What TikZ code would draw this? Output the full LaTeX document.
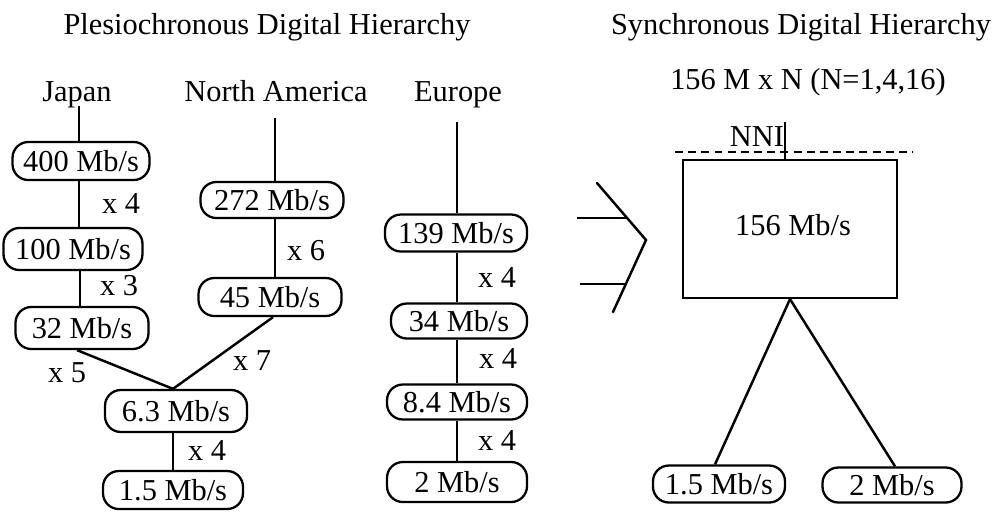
\documentclass[tikz,border=0pt]{standalone}
\usepackage{fontspec}
\setmainfont{Liberation Serif}
\usetikzlibrary{calc}

\tikzset{
  rate/.style={draw, line width=1.3pt, rounded corners=9pt, inner sep=0pt,
    minimum width=2.8cm, minimum height=0.76cm},
  mult/.style={inner sep=0pt},
  link/.style={line width=1.4pt}
}

\begin{document}
\begin{tikzpicture}[x=0.02cm,y=-0.02cm,font=\fontsize{17.3}{20}\selectfont]
            \useasboundingbox (0,0) rectangle (997,512);

            % titles
            \node[anchor=base] (titleP) at (267,34) {Plesiochronous Digital Hierarchy};
            \node[anchor=base] (titleS) at (801,34) {Synchronous Digital Hierarchy};

            % regions
            \node[anchor=base] (japan) at (77,101) {Japan};
            \node[anchor=base] (northam) at (276,101) {North America};
            \node[anchor=base] (europe) at (458,101) {Europe};

            \coordinate (jtop) at (79,106);
            \coordinate (natop) at (275,118);
            \coordinate (eutop) at (457,122);

            % Japan
            \node[rate, minimum width=2.74cm] (j400) at (81,161) {400 Mb/s};
            \node[rate, minimum width=2.78cm, minimum height=0.84cm] (j100) at (73,249) {100 Mb/s};
            \node[rate, minimum width=2.66cm, minimum height=0.84cm] (j32) at (82,328) {32 Mb/s};

            % North America
            \node[rate, minimum width=2.86cm, minimum height=0.72cm] (na272) at (272,200) {272 Mb/s};
            \node[rate, minimum width=2.86cm] (na45) at (270,297) {45 Mb/s};

            % common branch
            \node[rate, minimum width=2.84cm, minimum height=0.84cm] (n63) at (176,411) {6.3 Mb/s};
            \node[rate] (n15) at (173,490) {1.5 Mb/s};

            % Europe
            \node[rate, minimum width=2.84cm, minimum height=0.74cm] (e139) at (456,233) {139 Mb/s};
            \node[rate, minimum width=2.72cm, minimum height=0.7cm] (e34) at (459,321) {34 Mb/s};
            \node[rate, minimum height=0.7cm] (e84) at (457,402) {8.4 Mb/s};
            \node[rate, minimum height=0.8cm] (e2) at (457,482) {2 Mb/s};

            % multiplexing factors
            \node[mult] (mj4) at (121,203) {x 4};
            \node[mult] (mj3) at (119,286) {x 3};
            \node[mult] (mna6) at (306,251) {x 6};
            \node[mult] (mj5) at (67,373) {x 5};
            \node[mult] (mna7) at (252,361) {x 7};
            \node[mult] (mn4) at (207,450) {x 4};
            \node[mult] (me4a) at (497,277) {x 4};
            \node[mult] (me4b) at (498,358) {x 4};
            \node[mult] (me4c) at (497,440) {x 4};

            % vertical links
            \coordinate (j100s) at ($(j100.south)+(7,0)$);
            \coordinate (n63s) at ($(n63.south)+(-3,0)$);
            \draw[link] (jtop) -- (jtop |- j400.north);
            \draw[link] (jtop |- j400.south) -- (jtop |- j100.north);
            \draw[link] (j100s) -- (j100s |- j32.north);
            \draw[link] (natop) -- (natop |- na272.north);
            \draw[link] (natop |- na272.south) -- (natop |- na45.north);
            \draw[link] (eutop) -- (eutop |- e139.north);
            \draw[link] (eutop |- e139.south) -- (eutop |- e34.north);
            \draw[link] (eutop |- e34.south) -- (eutop |- e84.north);
            \draw[link] (eutop |- e84.south) -- (eutop |- e2.north);
            \draw[link] (n63s) -- (n63s |- n15.north);

            % branches into 6.3 Mb/s
            \coordinate (join) at ($(n63.north)+(-3,0)$);
            \draw[link] ($(j32.south)+(-5,0)$) -- (join);
            \draw[link] ($(na45.south)+(3,0)$) -- (join);

            % arrow between the two hierarchies
            \coordinate (chA) at (597,183);
            \coordinate (chB) at (646,240);
            \coordinate (chC) at (613,312);
            \draw[link, line cap=round] (chA) -- (chB) -- (chC);
            \draw[link] (577,218) -- (628,218);
            \draw[link] (580,284) -- (625,284);

            % SDH side
            \node (sdhmux) at (808,82) {156 M x N (N=1,4,16)};
            \node[draw, line width=1.3pt, minimum width=4.28cm, minimum height=2.76cm,
                  inner sep=0pt] (stm) at (790,229) {};
            \node at (793,225) {156 Mb/s};
            \draw[line width=1.2pt, dash pattern=on 4.5pt off 3pt] (675,152) -- (913,152);
            \node[inner sep=0pt] (nni) at (757,137) {NNI};
            \coordinate (nnitop) at (785,122);
            \draw[line width=1pt] (nnitop) -- (nnitop |- stm.north);

            \node[rate, minimum width=2.64cm, minimum height=0.74cm] (s15) at (719,484) {1.5 Mb/s};
            \node[rate, minimum width=2.78cm, minimum height=0.7cm] (s2) at (892,485) {2 Mb/s};
            \draw[link] (stm.south) -- ($(s15.north)+(-4,0)$);
            \draw[link] (stm.south) -- ($(s2.north)+(3,0)$);
\end{tikzpicture}
\end{document}
